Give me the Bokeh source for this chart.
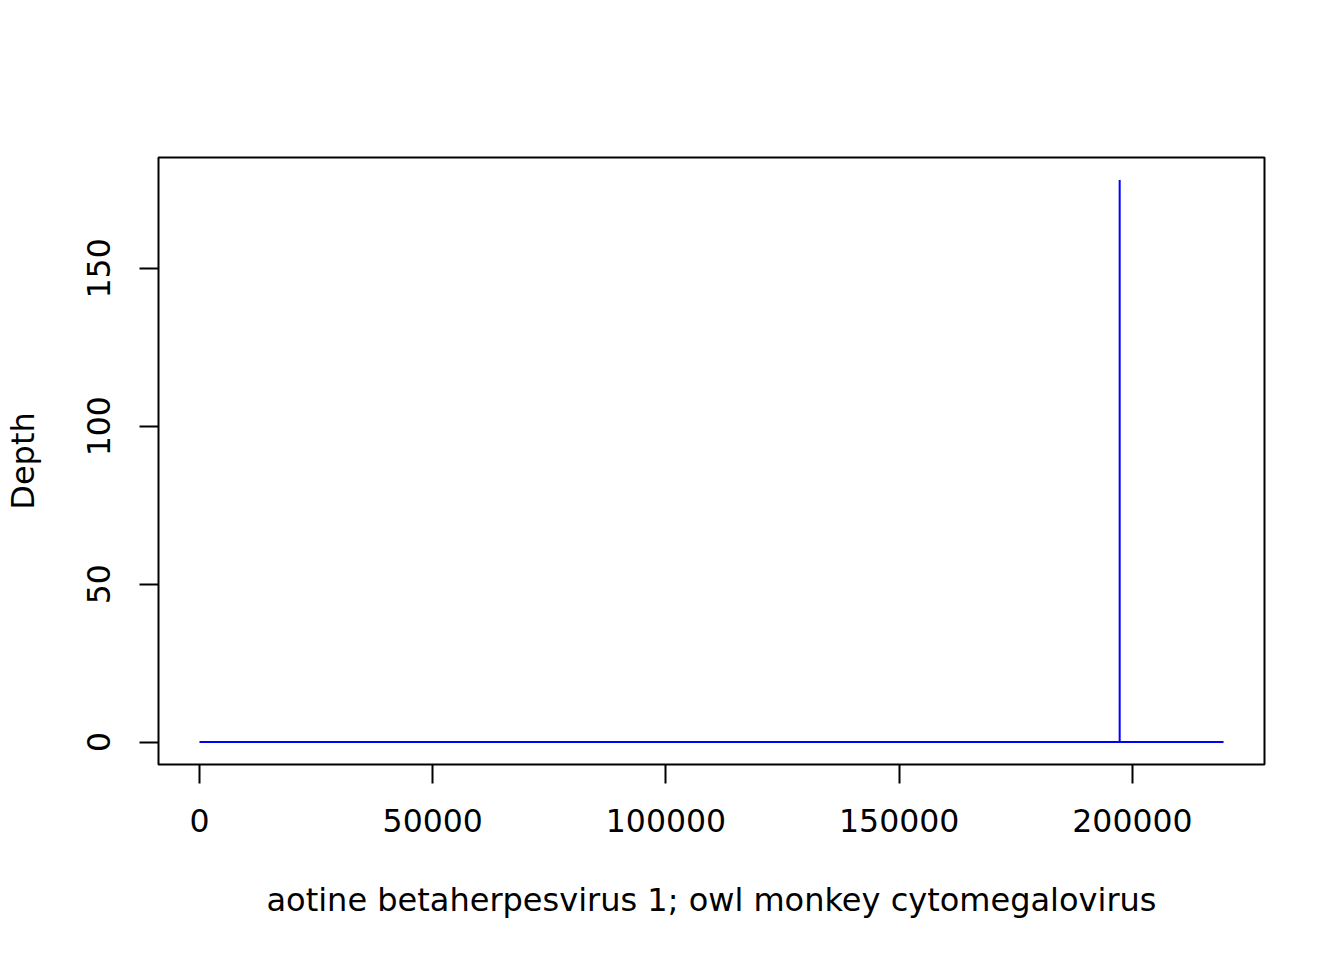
from bokeh.plotting import figure
from bokeh.models import FixedTicker, NumeralTickFormatter, Range1d
from bokeh.embed import file_html
from bokeh.resources import INLINE

positions = [1, 197259, 197260, 197261, 219524]
depth = [0, 0, 178, 0, 0]
x_ticks = [0, 50000, 100000, 150000, 200000]
y_ticks = [0, 50, 100, 150]
x_label = "aotine betaherpesvirus 1; owl monkey cytomegalovirus"
y_label = "Depth"

xmin, xmax = min(positions), max(positions)
ymin, ymax = min(depth), max(depth)
xpad = (xmax - xmin) * 0.04
ypad = (ymax - ymin) * 0.04

p = figure(output_backend="svg", toolbar_location=None,
           frame_width=1106, frame_height=607,
           min_border_left=156, min_border_top=157,
           min_border_right=66, min_border_bottom=180,
           x_range=Range1d(xmin - xpad, xmax + xpad),
           y_range=Range1d(ymin - ypad, ymax + ypad))

p.line(positions, depth, line_color="blue", line_width=2)

p.grid.visible = False
p.background_fill_color = "white"
p.border_fill_color = "white"
p.outline_line_color = "black"
p.outline_line_width = 2

font = "DejaVu Sans"
for ax in (p.xaxis[0], p.yaxis[0]):
    ax.axis_line_color = None
    ax.major_tick_line_color = "black"
    ax.major_tick_line_width = 2
    ax.major_tick_in = 0
    ax.major_tick_out = 19
    ax.minor_tick_line_color = None
    ax.major_label_text_font = font
    ax.major_label_text_font_size = "31.5px"
    ax.major_label_text_color = "black"
    ax.axis_label_text_font = font
    ax.axis_label_text_font_size = "32px"
    ax.axis_label_text_font_style = "normal"
    ax.axis_label_text_color = "black"
    ax.formatter = NumeralTickFormatter(format="0")

p.xaxis.ticker = FixedTicker(ticks=x_ticks)
p.yaxis.ticker = FixedTicker(ticks=y_ticks)
p.xaxis.axis_label = x_label
p.yaxis.axis_label = y_label
p.yaxis.major_label_orientation = "vertical"
p.xaxis.major_label_standoff = 25
p.yaxis.major_label_standoff = 29
p.xaxis.axis_label_standoff = 46
p.yaxis.axis_label_standoff = 43

open("out.html", "w").write(file_html(p, INLINE))
